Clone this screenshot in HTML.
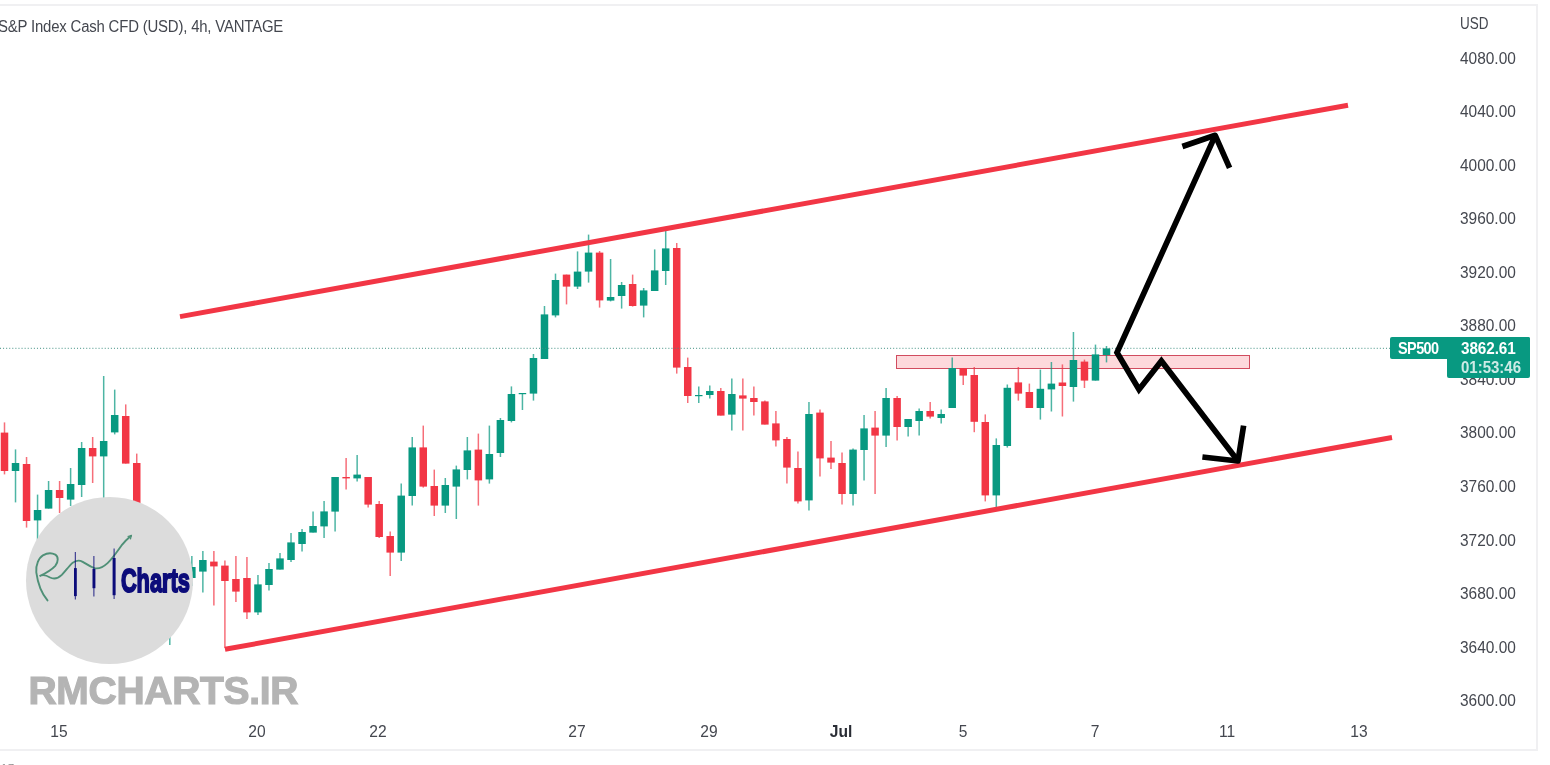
<!DOCTYPE html>
<html lang="en">
<head>
<meta charset="utf-8">
<title>SP500 4h chart - RMCHARTS.IR</title>
<style>
html,body{margin:0;padding:0;background:#fff;}
body{width:1550px;height:765px;position:relative;overflow:hidden;font-family:"Liberation Sans",sans-serif;color:#41444c;}
#frame{position:absolute;left:-4px;top:4px;width:1538px;height:743px;border:2px solid #f0f0f2;box-sizing:content-box;}
#chart{position:absolute;left:0;top:0;width:1550px;height:765px;}
#title{position:absolute;left:-2px;top:18px;font-size:16px;line-height:18px;white-space:nowrap;color:#44474f;letter-spacing:-0.2px;transform:scaleX(.933);transform-origin:0 50%;}
.yl{position:absolute;left:1460px;width:70px;font-size:15px;line-height:18px;height:18px;white-space:nowrap;color:#44474f;transform:scale(1.03,1.15);transform-origin:0 50%;}
.tl{position:absolute;top:723px;width:60px;text-align:center;font-size:15px;line-height:18px;color:#44474f;transform:scale(1.04,1.1);}
.tl.b{font-weight:bold;color:#2a2d35;}
#usd{position:absolute;left:1460px;top:14px;font-size:15px;line-height:18px;color:#44474f;transform:scale(.9,1.1);transform-origin:0 50%;}
#plabel{position:absolute;left:1390px;top:337px;width:140px;height:41px;}
#plabel .a{position:absolute;left:0;top:0;width:140px;height:22px;background:#089981;border-radius:2px;}
#plabel .b{position:absolute;left:57px;top:0;width:83px;height:41px;background:#089981;border-radius:2px;}
#plabel span{position:absolute;font-size:15px;line-height:18px;color:#fff;white-space:nowrap;transform-origin:0 50%;}
#plabel .s1{left:7.5px;top:2px;font-weight:bold;letter-spacing:-0.6px;transform:scale(.965,1.1);}
#plabel .s2{left:71px;top:2px;font-weight:bold;letter-spacing:-0.1px;transform:scale(1.02,1.1);}
#plabel .s3{left:71px;top:21px;font-weight:bold;color:rgba(255,255,255,.8);transform:scale(1,1.1);}
#wm{position:absolute;left:28.5px;top:667.5px;font-size:39px;line-height:46px;font-weight:bold;color:#b4b4b4;-webkit-text-stroke:1.2px #b4b4b4;letter-spacing:-0.3px;white-space:nowrap;}
#tiny{position:absolute;left:1px;top:761.6px;font-size:11px;line-height:12px;color:#8a8a8a;letter-spacing:1px;}
</style>
</head>
<body>
<div id="frame"></div>
<svg id="chart" width="1550" height="765" viewBox="0 0 1550 765">
<!-- resistance zone -->
<rect x="896.5" y="355.5" width="353" height="13" fill="#f23645" fill-opacity=".19" stroke="#cf4357" stroke-opacity=".95" stroke-width="1"/>
<!-- candles -->
<line x1="4.50" y1="422.4" x2="4.50" y2="474.4" stroke="#f23645" stroke-width="1.5" stroke-opacity=".72"/>
<rect x="0.75" y="432.6" width="7.5" height="38.4" fill="#f23645"/>
<line x1="15.52" y1="449.4" x2="15.52" y2="502.4" stroke="#089981" stroke-width="1.5" stroke-opacity=".72"/>
<rect x="11.77" y="463" width="7.5" height="8.0" fill="#089981"/>
<line x1="26.54" y1="457" x2="26.54" y2="527.6" stroke="#f23645" stroke-width="1.5" stroke-opacity=".72"/>
<rect x="22.79" y="464" width="7.5" height="57.0" fill="#f23645"/>
<line x1="37.56" y1="494.6" x2="37.56" y2="540" stroke="#089981" stroke-width="1.5" stroke-opacity=".72"/>
<rect x="33.81" y="510" width="7.5" height="10.4" fill="#089981"/>
<line x1="48.58" y1="481" x2="48.58" y2="508.6" stroke="#089981" stroke-width="1.5" stroke-opacity=".72"/>
<rect x="44.83" y="490" width="7.5" height="18.6" fill="#089981"/>
<line x1="59.60" y1="481" x2="59.60" y2="513" stroke="#f23645" stroke-width="1.5" stroke-opacity=".72"/>
<rect x="55.85" y="490" width="7.5" height="8.0" fill="#f23645"/>
<line x1="70.62" y1="468" x2="70.62" y2="506" stroke="#089981" stroke-width="1.5" stroke-opacity=".72"/>
<rect x="66.87" y="484" width="7.5" height="15.6" fill="#089981"/>
<line x1="81.64" y1="442" x2="81.64" y2="497" stroke="#089981" stroke-width="1.5" stroke-opacity=".72"/>
<rect x="77.89" y="448" width="7.5" height="37.0" fill="#089981"/>
<line x1="92.66" y1="437" x2="92.66" y2="483" stroke="#f23645" stroke-width="1.5" stroke-opacity=".72"/>
<rect x="88.91" y="448" width="7.5" height="8.4" fill="#f23645"/>
<line x1="103.68" y1="376" x2="103.68" y2="520" stroke="#089981" stroke-width="1.5" stroke-opacity=".72"/>
<rect x="99.93" y="441" width="7.5" height="15.4" fill="#089981"/>
<line x1="114.70" y1="389.6" x2="114.70" y2="434.4" stroke="#089981" stroke-width="1.5" stroke-opacity=".72"/>
<rect x="110.95" y="415" width="7.5" height="17.4" fill="#089981"/>
<line x1="125.72" y1="404.4" x2="125.72" y2="463.6" stroke="#f23645" stroke-width="1.5" stroke-opacity=".72"/>
<rect x="121.97" y="416" width="7.5" height="47.6" fill="#f23645"/>
<line x1="136.74" y1="453.6" x2="136.74" y2="535" stroke="#f23645" stroke-width="1.5" stroke-opacity=".72"/>
<rect x="132.99" y="463" width="7.5" height="67.0" fill="#f23645"/>
<line x1="169.80" y1="600" x2="169.80" y2="645" stroke="#089981" stroke-width="1.5" stroke-opacity=".72"/>
<rect x="166.05" y="610" width="7.5" height="15.0" fill="#089981"/>
<line x1="191.84" y1="556" x2="191.84" y2="586" stroke="#089981" stroke-width="1.5" stroke-opacity=".72"/>
<rect x="188.09" y="567" width="7.5" height="11.0" fill="#089981"/>
<line x1="202.86" y1="551" x2="202.86" y2="592.4" stroke="#089981" stroke-width="1.5" stroke-opacity=".72"/>
<rect x="199.11" y="560" width="7.5" height="11.6" fill="#089981"/>
<line x1="213.88" y1="551" x2="213.88" y2="605.6" stroke="#f23645" stroke-width="1.5" stroke-opacity=".72"/>
<rect x="210.13" y="561.6" width="7.5" height="4.8" fill="#f23645"/>
<line x1="224.90" y1="560.4" x2="224.90" y2="648" stroke="#f23645" stroke-width="1.5" stroke-opacity=".72"/>
<rect x="221.15" y="565.6" width="7.5" height="15.4" fill="#f23645"/>
<line x1="235.92" y1="556" x2="235.92" y2="602" stroke="#f23645" stroke-width="1.5" stroke-opacity=".72"/>
<rect x="232.17" y="579" width="7.5" height="12.6" fill="#f23645"/>
<line x1="246.94" y1="557" x2="246.94" y2="619" stroke="#f23645" stroke-width="1.5" stroke-opacity=".72"/>
<rect x="243.19" y="578" width="7.5" height="34.4" fill="#f23645"/>
<line x1="257.96" y1="575" x2="257.96" y2="615" stroke="#089981" stroke-width="1.5" stroke-opacity=".72"/>
<rect x="254.21" y="584.4" width="7.5" height="28.0" fill="#089981"/>
<line x1="268.98" y1="563" x2="268.98" y2="590.6" stroke="#089981" stroke-width="1.5" stroke-opacity=".72"/>
<rect x="265.23" y="569" width="7.5" height="16.0" fill="#089981"/>
<line x1="280.00" y1="553" x2="280.00" y2="569.6" stroke="#089981" stroke-width="1.5" stroke-opacity=".72"/>
<rect x="276.25" y="558.4" width="7.5" height="11.2" fill="#089981"/>
<line x1="291.02" y1="533" x2="291.02" y2="562" stroke="#089981" stroke-width="1.5" stroke-opacity=".72"/>
<rect x="287.27" y="542.4" width="7.5" height="17.6" fill="#089981"/>
<line x1="302.04" y1="529" x2="302.04" y2="551.6" stroke="#089981" stroke-width="1.5" stroke-opacity=".72"/>
<rect x="298.29" y="532" width="7.5" height="12.0" fill="#089981"/>
<line x1="313.06" y1="511.6" x2="313.06" y2="532.6" stroke="#089981" stroke-width="1.5" stroke-opacity=".72"/>
<rect x="309.31" y="526" width="7.5" height="6.6" fill="#089981"/>
<line x1="324.08" y1="501" x2="324.08" y2="538" stroke="#089981" stroke-width="1.5" stroke-opacity=".72"/>
<rect x="320.33" y="511.4" width="7.5" height="15.0" fill="#089981"/>
<line x1="335.10" y1="477" x2="335.10" y2="531.6" stroke="#089981" stroke-width="1.5" stroke-opacity=".72"/>
<rect x="331.35" y="477" width="7.5" height="34.6" fill="#089981"/>
<line x1="346.12" y1="458" x2="346.12" y2="489.6" stroke="#f23645" stroke-width="1.5" stroke-opacity=".72"/>
<rect x="342.37" y="477" width="7.5" height="1.4" fill="#f23645"/>
<line x1="357.14" y1="455" x2="357.14" y2="481.4" stroke="#089981" stroke-width="1.5" stroke-opacity=".72"/>
<rect x="353.39" y="474.6" width="7.5" height="3.8" fill="#089981"/>
<line x1="368.16" y1="477" x2="368.16" y2="507.4" stroke="#f23645" stroke-width="1.5" stroke-opacity=".72"/>
<rect x="364.41" y="477" width="7.5" height="27.6" fill="#f23645"/>
<line x1="379.18" y1="501" x2="379.18" y2="538" stroke="#f23645" stroke-width="1.5" stroke-opacity=".72"/>
<rect x="375.43" y="504" width="7.5" height="33.0" fill="#f23645"/>
<line x1="390.20" y1="531.4" x2="390.20" y2="576" stroke="#f23645" stroke-width="1.5" stroke-opacity=".72"/>
<rect x="386.45" y="536" width="7.5" height="16.6" fill="#f23645"/>
<line x1="401.22" y1="483.4" x2="401.22" y2="561" stroke="#089981" stroke-width="1.5" stroke-opacity=".72"/>
<rect x="397.47" y="495.6" width="7.5" height="57.0" fill="#089981"/>
<line x1="412.24" y1="437" x2="412.24" y2="505.4" stroke="#089981" stroke-width="1.5" stroke-opacity=".72"/>
<rect x="408.49" y="447.4" width="7.5" height="48.6" fill="#089981"/>
<line x1="423.26" y1="425.6" x2="423.26" y2="487.6" stroke="#f23645" stroke-width="1.5" stroke-opacity=".72"/>
<rect x="419.51" y="447.4" width="7.5" height="39.2" fill="#f23645"/>
<line x1="434.28" y1="469.6" x2="434.28" y2="516" stroke="#f23645" stroke-width="1.5" stroke-opacity=".72"/>
<rect x="430.53" y="486" width="7.5" height="19.6" fill="#f23645"/>
<line x1="445.30" y1="478" x2="445.30" y2="513" stroke="#089981" stroke-width="1.5" stroke-opacity=".72"/>
<rect x="441.55" y="485" width="7.5" height="20.6" fill="#089981"/>
<line x1="456.32" y1="465.6" x2="456.32" y2="519" stroke="#089981" stroke-width="1.5" stroke-opacity=".72"/>
<rect x="452.57" y="469.4" width="7.5" height="17.2" fill="#089981"/>
<line x1="467.34" y1="437" x2="467.34" y2="479.4" stroke="#089981" stroke-width="1.5" stroke-opacity=".72"/>
<rect x="463.59" y="450.4" width="7.5" height="19.6" fill="#089981"/>
<line x1="478.36" y1="433.6" x2="478.36" y2="505.6" stroke="#f23645" stroke-width="1.5" stroke-opacity=".72"/>
<rect x="474.61" y="449.6" width="7.5" height="30.8" fill="#f23645"/>
<line x1="489.38" y1="425.6" x2="489.38" y2="483.6" stroke="#089981" stroke-width="1.5" stroke-opacity=".72"/>
<rect x="485.63" y="454" width="7.5" height="25.4" fill="#089981"/>
<line x1="500.40" y1="418" x2="500.40" y2="457" stroke="#089981" stroke-width="1.5" stroke-opacity=".72"/>
<rect x="496.65" y="420" width="7.5" height="33.0" fill="#089981"/>
<line x1="511.42" y1="386.4" x2="511.42" y2="422.4" stroke="#089981" stroke-width="1.5" stroke-opacity=".72"/>
<rect x="507.67" y="394" width="7.5" height="27.0" fill="#089981"/>
<line x1="522.44" y1="393" x2="522.44" y2="410" stroke="#089981" stroke-width="1.5" stroke-opacity=".72"/>
<rect x="518.69" y="393" width="7.5" height="1.2" fill="#089981"/>
<line x1="533.46" y1="354" x2="533.46" y2="400.6" stroke="#089981" stroke-width="1.5" stroke-opacity=".72"/>
<rect x="529.71" y="358" width="7.5" height="35.6" fill="#089981"/>
<line x1="544.48" y1="306" x2="544.48" y2="359" stroke="#089981" stroke-width="1.5" stroke-opacity=".72"/>
<rect x="540.73" y="314.4" width="7.5" height="44.6" fill="#089981"/>
<line x1="555.50" y1="273.6" x2="555.50" y2="317.4" stroke="#089981" stroke-width="1.5" stroke-opacity=".72"/>
<rect x="551.75" y="280" width="7.5" height="35.4" fill="#089981"/>
<line x1="566.52" y1="274.6" x2="566.52" y2="304.4" stroke="#f23645" stroke-width="1.5" stroke-opacity=".72"/>
<rect x="562.77" y="274.6" width="7.5" height="12.0" fill="#f23645"/>
<line x1="577.54" y1="251.4" x2="577.54" y2="289" stroke="#089981" stroke-width="1.5" stroke-opacity=".72"/>
<rect x="573.79" y="271.6" width="7.5" height="15.0" fill="#089981"/>
<line x1="588.56" y1="234.6" x2="588.56" y2="282.6" stroke="#089981" stroke-width="1.5" stroke-opacity=".72"/>
<rect x="584.81" y="252.6" width="7.5" height="19.0" fill="#089981"/>
<line x1="599.58" y1="251" x2="599.58" y2="307.6" stroke="#f23645" stroke-width="1.5" stroke-opacity=".72"/>
<rect x="595.83" y="252.6" width="7.5" height="47.8" fill="#f23645"/>
<line x1="610.60" y1="259" x2="610.60" y2="301.4" stroke="#089981" stroke-width="1.5" stroke-opacity=".72"/>
<rect x="606.85" y="297" width="7.5" height="3.6" fill="#089981"/>
<line x1="621.62" y1="282" x2="621.62" y2="308.6" stroke="#089981" stroke-width="1.5" stroke-opacity=".72"/>
<rect x="617.87" y="285" width="7.5" height="11.0" fill="#089981"/>
<line x1="632.64" y1="274.6" x2="632.64" y2="306.6" stroke="#f23645" stroke-width="1.5" stroke-opacity=".72"/>
<rect x="628.89" y="284" width="7.5" height="22.0" fill="#f23645"/>
<line x1="643.66" y1="288" x2="643.66" y2="317.4" stroke="#089981" stroke-width="1.5" stroke-opacity=".72"/>
<rect x="639.91" y="290.4" width="7.5" height="15.2" fill="#089981"/>
<line x1="654.68" y1="249.4" x2="654.68" y2="291" stroke="#089981" stroke-width="1.5" stroke-opacity=".72"/>
<rect x="650.93" y="270.4" width="7.5" height="20.6" fill="#089981"/>
<line x1="665.70" y1="231" x2="665.70" y2="285" stroke="#089981" stroke-width="1.5" stroke-opacity=".72"/>
<rect x="661.95" y="248.4" width="7.5" height="22.6" fill="#089981"/>
<line x1="676.72" y1="243" x2="676.72" y2="373.6" stroke="#f23645" stroke-width="1.5" stroke-opacity=".72"/>
<rect x="672.97" y="248" width="7.5" height="119.6" fill="#f23645"/>
<line x1="687.74" y1="357.6" x2="687.74" y2="403" stroke="#f23645" stroke-width="1.5" stroke-opacity=".72"/>
<rect x="683.99" y="367" width="7.5" height="29.0" fill="#f23645"/>
<line x1="698.76" y1="386.4" x2="698.76" y2="403" stroke="#089981" stroke-width="1.5" stroke-opacity=".72"/>
<rect x="695.01" y="395" width="7.5" height="1.2" fill="#089981"/>
<line x1="709.78" y1="385.4" x2="709.78" y2="398.6" stroke="#089981" stroke-width="1.5" stroke-opacity=".72"/>
<rect x="706.03" y="391" width="7.5" height="4.0" fill="#089981"/>
<line x1="720.80" y1="388" x2="720.80" y2="415.6" stroke="#f23645" stroke-width="1.5" stroke-opacity=".72"/>
<rect x="717.05" y="391" width="7.5" height="24.6" fill="#f23645"/>
<line x1="731.82" y1="378.4" x2="731.82" y2="430.4" stroke="#089981" stroke-width="1.5" stroke-opacity=".72"/>
<rect x="728.07" y="394" width="7.5" height="20.6" fill="#089981"/>
<line x1="742.84" y1="378.4" x2="742.84" y2="430.4" stroke="#f23645" stroke-width="1.5" stroke-opacity=".72"/>
<rect x="739.09" y="395.4" width="7.5" height="3.2" fill="#f23645"/>
<line x1="753.86" y1="386.4" x2="753.86" y2="415.6" stroke="#f23645" stroke-width="1.5" stroke-opacity=".72"/>
<rect x="750.11" y="398" width="7.5" height="4.0" fill="#f23645"/>
<line x1="764.88" y1="400.6" x2="764.88" y2="424.6" stroke="#f23645" stroke-width="1.5" stroke-opacity=".72"/>
<rect x="761.13" y="401.4" width="7.5" height="23.2" fill="#f23645"/>
<line x1="775.90" y1="411" x2="775.90" y2="446.6" stroke="#f23645" stroke-width="1.5" stroke-opacity=".72"/>
<rect x="772.15" y="423.4" width="7.5" height="17.0" fill="#f23645"/>
<line x1="786.92" y1="437" x2="786.92" y2="483.6" stroke="#f23645" stroke-width="1.5" stroke-opacity=".72"/>
<rect x="783.17" y="439" width="7.5" height="28.6" fill="#f23645"/>
<line x1="797.94" y1="451.6" x2="797.94" y2="503.4" stroke="#f23645" stroke-width="1.5" stroke-opacity=".72"/>
<rect x="794.19" y="468" width="7.5" height="33.4" fill="#f23645"/>
<line x1="808.96" y1="402" x2="808.96" y2="510.6" stroke="#089981" stroke-width="1.5" stroke-opacity=".72"/>
<rect x="805.21" y="414" width="7.5" height="86.4" fill="#089981"/>
<line x1="819.98" y1="409.6" x2="819.98" y2="476.4" stroke="#f23645" stroke-width="1.5" stroke-opacity=".72"/>
<rect x="816.23" y="412.6" width="7.5" height="45.8" fill="#f23645"/>
<line x1="831.00" y1="441" x2="831.00" y2="469" stroke="#f23645" stroke-width="1.5" stroke-opacity=".72"/>
<rect x="827.25" y="457.6" width="7.5" height="5.0" fill="#f23645"/>
<line x1="842.02" y1="452.6" x2="842.02" y2="504.4" stroke="#f23645" stroke-width="1.5" stroke-opacity=".72"/>
<rect x="838.27" y="463" width="7.5" height="31.0" fill="#f23645"/>
<line x1="853.04" y1="448.6" x2="853.04" y2="505.6" stroke="#089981" stroke-width="1.5" stroke-opacity=".72"/>
<rect x="849.29" y="449.6" width="7.5" height="44.4" fill="#089981"/>
<line x1="864.06" y1="415" x2="864.06" y2="480.4" stroke="#089981" stroke-width="1.5" stroke-opacity=".72"/>
<rect x="860.31" y="428.4" width="7.5" height="21.6" fill="#089981"/>
<line x1="875.08" y1="411" x2="875.08" y2="494" stroke="#f23645" stroke-width="1.5" stroke-opacity=".72"/>
<rect x="871.33" y="427.6" width="7.5" height="8.0" fill="#f23645"/>
<line x1="886.10" y1="388" x2="886.10" y2="447" stroke="#089981" stroke-width="1.5" stroke-opacity=".72"/>
<rect x="882.35" y="398" width="7.5" height="37.6" fill="#089981"/>
<line x1="897.12" y1="396" x2="897.12" y2="440.4" stroke="#f23645" stroke-width="1.5" stroke-opacity=".72"/>
<rect x="893.37" y="398" width="7.5" height="29.0" fill="#f23645"/>
<line x1="908.14" y1="419" x2="908.14" y2="436.4" stroke="#089981" stroke-width="1.5" stroke-opacity=".72"/>
<rect x="904.39" y="419" width="7.5" height="8.0" fill="#089981"/>
<line x1="919.16" y1="408.6" x2="919.16" y2="435.6" stroke="#089981" stroke-width="1.5" stroke-opacity=".72"/>
<rect x="915.41" y="411" width="7.5" height="10.0" fill="#089981"/>
<line x1="930.18" y1="402" x2="930.18" y2="418.6" stroke="#f23645" stroke-width="1.5" stroke-opacity=".72"/>
<rect x="926.43" y="411" width="7.5" height="5.6" fill="#f23645"/>
<line x1="941.20" y1="409.6" x2="941.20" y2="423.6" stroke="#089981" stroke-width="1.5" stroke-opacity=".72"/>
<rect x="937.45" y="414" width="7.5" height="4.0" fill="#089981"/>
<line x1="952.22" y1="357.4" x2="952.22" y2="408" stroke="#089981" stroke-width="1.5" stroke-opacity=".72"/>
<rect x="948.47" y="368" width="7.5" height="40.0" fill="#089981"/>
<line x1="963.24" y1="368" x2="963.24" y2="385" stroke="#f23645" stroke-width="1.5" stroke-opacity=".72"/>
<rect x="959.49" y="368" width="7.5" height="7.6" fill="#f23645"/>
<line x1="974.26" y1="367" x2="974.26" y2="432.2" stroke="#f23645" stroke-width="1.5" stroke-opacity=".72"/>
<rect x="970.51" y="375" width="7.5" height="46.8" fill="#f23645"/>
<line x1="985.28" y1="414.4" x2="985.28" y2="501.4" stroke="#f23645" stroke-width="1.5" stroke-opacity=".72"/>
<rect x="981.53" y="422" width="7.5" height="73.4" fill="#f23645"/>
<line x1="996.30" y1="438.4" x2="996.30" y2="507" stroke="#089981" stroke-width="1.5" stroke-opacity=".72"/>
<rect x="992.55" y="445" width="7.5" height="50.4" fill="#089981"/>
<line x1="1007.32" y1="384.5" x2="1007.32" y2="447.6" stroke="#089981" stroke-width="1.5" stroke-opacity=".72"/>
<rect x="1003.57" y="387.8" width="7.5" height="58.2" fill="#089981"/>
<line x1="1018.34" y1="367" x2="1018.34" y2="400.6" stroke="#f23645" stroke-width="1.5" stroke-opacity=".72"/>
<rect x="1014.59" y="382.4" width="7.5" height="11.2" fill="#f23645"/>
<line x1="1029.36" y1="383.6" x2="1029.36" y2="408" stroke="#f23645" stroke-width="1.5" stroke-opacity=".72"/>
<rect x="1025.61" y="392" width="7.5" height="16.0" fill="#f23645"/>
<line x1="1040.38" y1="369.6" x2="1040.38" y2="419.6" stroke="#089981" stroke-width="1.5" stroke-opacity=".72"/>
<rect x="1036.63" y="388.8" width="7.5" height="19.2" fill="#089981"/>
<line x1="1051.40" y1="362" x2="1051.40" y2="411.5" stroke="#089981" stroke-width="1.5" stroke-opacity=".72"/>
<rect x="1047.65" y="383.6" width="7.5" height="5.8" fill="#089981"/>
<line x1="1062.42" y1="364.4" x2="1062.42" y2="416.5" stroke="#f23645" stroke-width="1.5" stroke-opacity=".72"/>
<rect x="1058.67" y="382.5" width="7.5" height="3.5" fill="#f23645"/>
<line x1="1073.44" y1="332" x2="1073.44" y2="401.6" stroke="#089981" stroke-width="1.5" stroke-opacity=".72"/>
<rect x="1069.69" y="360" width="7.5" height="27.0" fill="#089981"/>
<line x1="1084.46" y1="359.6" x2="1084.46" y2="388" stroke="#f23645" stroke-width="1.5" stroke-opacity=".72"/>
<rect x="1080.71" y="361.6" width="7.5" height="19.0" fill="#f23645"/>
<line x1="1095.48" y1="344.6" x2="1095.48" y2="380.6" stroke="#089981" stroke-width="1.5" stroke-opacity=".72"/>
<rect x="1091.73" y="354.4" width="7.5" height="26.2" fill="#089981"/>
<line x1="1106.50" y1="346" x2="1106.50" y2="362.4" stroke="#089981" stroke-width="1.5" stroke-opacity=".72"/>
<rect x="1102.75" y="348.4" width="7.5" height="6.6" fill="#089981"/>
<line x1="0" y1="348.3" x2="1390" y2="348.3" stroke="#3f8f80" stroke-width="1" stroke-dasharray="1 2.08"/>
<!-- channel -->
<line x1="180" y1="316.6" x2="1348" y2="105.2" stroke="#f23645" stroke-width="5"/>
<line x1="225" y1="649.3" x2="1392" y2="437.5" stroke="#f23645" stroke-width="5"/>
<!-- arrows -->
<g fill="none" stroke="#000" stroke-width="5.7" stroke-linejoin="miter" stroke-miterlimit="6">
<polyline points="1215.2,135.6 1117,352.5 1139,389.5 1161.4,361 1238,461"/>
<polyline points="1182.4,146.5 1215.2,135.3 1229.6,167.8" stroke-linejoin="round"/>
<polyline points="1202.4,457 1238,461 1243.6,425.6" stroke-linejoin="round"/>
</g>
<!-- logo -->
<circle cx="109.5" cy="580.5" r="83.5" fill="#dcdcdc"/>
<path d="M47.5,600.4 C43,595 38,585 36.3,572.3 C35.5,565 39,557.5 42.9,555.3 C47,553 52,552.8 55.3,554.6 C58.5,556.5 58.5,562 55.3,565.8 C51,570.5 45,573.5 39.6,576.2 C42,574.5 46,575 50.1,577.5 C54,579.5 58.5,578 61.8,574.9 C65.5,571 69,566 72.3,563.1 C75.5,560.5 79.5,560 82.7,561.8 C86.5,564 90,566.8 94.5,568.1 C99,569.2 103.5,566.8 107.6,563.1 C112.5,558.5 117.5,551 122,544.8 C125,541 128,538.3 131.1,535.7" fill="none" stroke="#4f9077" stroke-width="1.9" stroke-linecap="round"/>
<path d="M127.6,536.6 L131.3,535.5 L130.4,539.3" fill="none" stroke="#4f9077" stroke-width="1.2"/>
<g stroke="#0c0c7a" fill="#0c0c7a">
<line x1="75.3" y1="552" x2="75.3" y2="599.5" stroke-width=".9"/><rect x="74" y="568.1" width="2.8" height="28" stroke="none"/>
<line x1="93.9" y1="556" x2="93.9" y2="596.5" stroke-width=".9"/><rect x="92.5" y="569" width="2.9" height="19.2" stroke="none"/>
<line x1="114.1" y1="548.5" x2="114.1" y2="599" stroke-width=".9"/><rect x="112.6" y="558" width="3" height="37.2" stroke="none"/>
</g>
<text x="120.9" y="592.2" font-family="Liberation Sans, sans-serif" font-weight="bold" font-size="34" fill="#0c0c7a" stroke="#0c0c7a" stroke-width="2" stroke-linejoin="miter" textLength="69" lengthAdjust="spacingAndGlyphs">Charts</text>
</svg>
<div id="title">S&amp;P Index Cash CFD (USD), 4h, VANTAGE</div>
<div id="usd">USD</div>
<div class="yl" style="top:48.5px">4080.00</div>
<div class="yl" style="top:102.1px">4040.00</div>
<div class="yl" style="top:155.6px">4000.00</div>
<div class="yl" style="top:209.2px">3960.00</div>
<div class="yl" style="top:262.7px">3920.00</div>
<div class="yl" style="top:316.2px">3880.00</div>
<div class="yl" style="top:369.8px">3840.00</div>
<div class="yl" style="top:423.4px">3800.00</div>
<div class="yl" style="top:476.9px">3760.00</div>
<div class="yl" style="top:530.5px">3720.00</div>
<div class="yl" style="top:584.0px">3680.00</div>
<div class="yl" style="top:637.6px">3640.00</div>
<div class="yl" style="top:691.1px">3600.00</div>
<div class="tl" style="left:29.0px">15</div>
<div class="tl" style="left:227.3px">20</div>
<div class="tl" style="left:348.4px">22</div>
<div class="tl" style="left:546.8px">27</div>
<div class="tl" style="left:679.0px">29</div>
<div class="tl b" style="left:811.0px">Jul</div>
<div class="tl" style="left:932.8px">5</div>
<div class="tl" style="left:1065.0px">7</div>
<div class="tl" style="left:1197.0px">11</div>
<div class="tl" style="left:1329.4px">13</div>
<div id="plabel"><div class="a"></div><div class="b"></div><span class="s1">SP500</span><span class="s2">3862.61</span><span class="s3">01:53:46</span></div>
<div id="wm">RMCHARTS.IR</div>
<div id="tiny">17</div>
</body>
</html>
